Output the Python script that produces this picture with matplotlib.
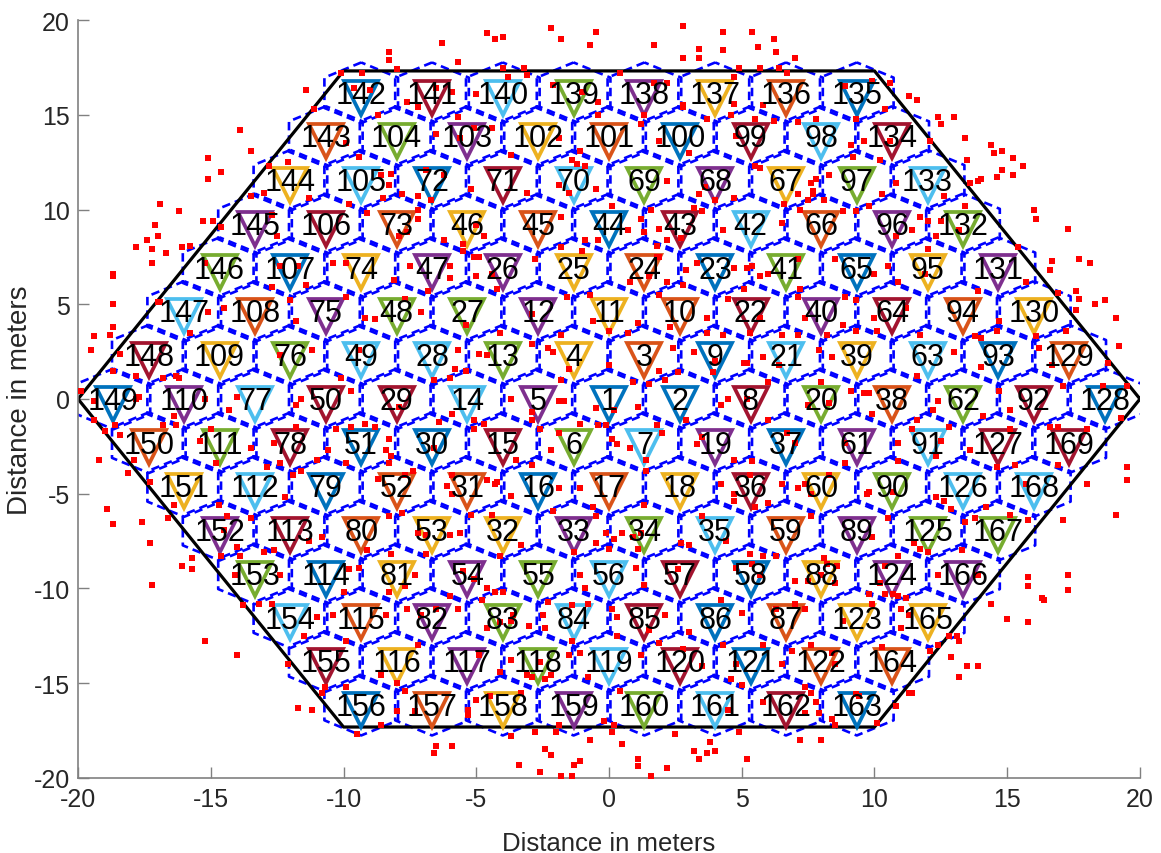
import numpy as np
import matplotlib
matplotlib.use("Agg")
import matplotlib.pyplot as plt
from matplotlib import font_manager

# base station ids, one list per hexagon row, top row first
cell_rows = [
    [142, 141, 140, 139, 138, 137, 136, 135],
    [143, 104, 103, 102, 101, 100, 99, 98, 134],
    [144, 105, 72, 71, 70, 69, 68, 67, 97, 133],
    [145, 106, 73, 46, 45, 44, 43, 42, 66, 96, 132],
    [146, 107, 74, 47, 26, 25, 24, 23, 41, 65, 95, 131],
    [147, 108, 75, 48, 27, 12, 11, 10, 22, 40, 64, 94, 130],
    [148, 109, 76, 49, 28, 13, 4, 3, 9, 21, 39, 63, 93, 129],
    [149, 110, 77, 50, 29, 14, 5, 1, 2, 8, 20, 38, 62, 92, 128],
    [150, 111, 78, 51, 30, 15, 6, 7, 19, 37, 61, 91, 127, 169],
    [151, 112, 79, 52, 31, 16, 17, 18, 36, 60, 90, 126, 168],
    [152, 113, 80, 53, 32, 33, 34, 35, 59, 89, 125, 167],
    [153, 114, 81, 54, 55, 56, 57, 58, 88, 124, 166],
    [154, 115, 82, 83, 84, 85, 86, 87, 123, 165],
    [155, 116, 117, 118, 119, 120, 121, 122, 164],
    [156, 157, 158, 159, 160, 161, 162, 163],
]
row_index = list(range(7, -8, -1))

# matlab default colour order
bs_colors = ["#0072BD", "#D95319", "#EDB120", "#7E2F8E", "#77AC30", "#4DBEEE", "#A2142F"]

area_radius = 20.0
bs_spacing = area_radius / 7.5

# user positions, grouped by region
pts_left_top = [(-15.1,12.7),(-14.6,12.0),(-15.1,11.6),(-13.5,13.1),(-16.9,10.3),(-16.2,9.9),(-17.1,9.2),(-17.0,8.6),
    (-17.4,8.4),(-17.2,7.9),(-17.8,8.0),(-16.7,7.7),(-17.2,7.2),(-16.1,8.0),(-15.8,8.1),(-15.3,9.4),(-14.9,9.4),
    (-14.6,9.1),(-18.7,6.6),(-18.7,6.5),(-18.7,5.0),(-18.7,3.8),(-18.8,3.4),(-19.4,3.3),(-19.5,2.6),(-18.4,2.4),
    (-18.7,1.5),(-17.0,5.1),(-16.9,5.1),(-13.5,10.7),(-13.0,10.9),(-12.1,12.5),(-12.8,12.3),(-11.3,10.6),(-12.7,9.7),
    (-12.5,8.6),(-15.2,7.2),(-15.1,4.6),(-14.5,4.8),(-15.8,3.5),(-17.8,1.2),(-16.8,1.1),(-16.3,1.2),(-16.2,1.1),
    (-14.0,0.1),(-19.9,0.4),(-11.8,4.1),(-12.0,5.2),(-12.7,5.9),(-11.4,6.0),(-10.4,7.2),(-12.4,7.0),(-11.7,7.0),
    (-11.2,2.6),(-12.4,2.3),(-11.6,0.0),(-11.8,-0.3),(-17.8,0.0),(-13.9,14.2)]
pts_top = [(-2.2,19.6),(-4.6,19.3),(-4.3,19.0),(-4.0,19.1),(-1.8,19.0),(-0.5,19.4),(-0.7,18.7),(-6.3,18.8),(-8.3,18.3),
    (-8.3,17.9),(-5.7,17.8),(2.8,19.7),(1.7,18.7),(2.8,18.0),(3.4,18.5),(3.4,18.0),(4.3,19.4),(4.3,18.4),(5.4,19.4),
    (5.6,18.6),(6.2,19.0),(6.3,18.3),(7.0,18.0),(4.9,17.5),(5.7,17.5),(6.4,17.5),(6.7,17.2),(-4.0,17.5),(-3.2,17.5),
    (-8.0,17.4),(-9.3,17.2),(-10.1,17.2),(-3.8,17.0),(-3.1,17.1),(-11.4,16.3),(10.6,16.7),(11.6,15.8),(11.3,16.0),
    (9.9,16.8),(0.4,17.2),(4.7,17.0),(-9.6,16.4),(-9.0,16.3),(-7.6,15.7),(-6.5,16.4),(-5.9,16.2),(-5.0,16.1),
    (-2.1,16.6),(-1.0,16.2),(-0.4,15.7),(1.7,16.7),(2.2,16.7),(2.8,15.5),(5.8,15.5),(8.9,16.5),(10.4,15.3),
    (4.7,15.6),(-11.1,15.3)]
pts_right_top = [(12.4,14.9),(13.0,14.9),(12.5,14.5),(13.4,13.8),(14.4,13.4),(14.5,13.0),(14.8,13.1),(15.2,12.7),
    (15.6,12.3),(14.8,12.1),(15.2,11.8),(14.6,11.7),(13.5,12.6),(14.0,11.6),(13.9,11.5),(13.6,11.4),(16.0,10.0),
    (16.1,9.5),(17.3,9.0),(17.7,7.4),(18.1,7.2),(16.7,7.3),(16.6,6.8),(17.6,5.7),(17.7,5.3),(16.9,5.6),(18.3,5.0),
    (18.7,5.2),(17.6,4.7),(19.1,4.3),(19.2,2.8),(18.8,1.9),(19.5,0.7),(13.4,10.2),(12.6,10.7),(12.1,13.6),(9.6,13.6),
    (10.6,13.6),(10.2,12.6),(10.8,11.4),(10.3,10.8),(9.8,10.2),(11.7,9.6),(12.0,9.4),(12.5,9.4),(13.2,8.9),(12.3,8.6),
    (11.4,8.9),(10.8,8.6),(12.0,7.9),(10.5,7.0),(10.0,6.6),(10.9,6.2),(11.9,6.6),(13.9,5.7),(15.4,8.0),(15.7,6.2),
    (14.7,4.1),(14.6,3.6),(13.8,3.3),(14.0,3.2),(11.7,3.4),(10.1,3.6),(10.0,4.3),(11.2,4.8),(16.1,3.3),(16.2,2.7),
    (17.2,3.6),(16.7,1.8),(13.0,2.5),(14.0,1.7),(11.6,1.2),(17.1,0.7),(18.6,0.7),(14.7,0.4),(9.8,0.3),(9.6,0.3)]
pts_right_bottom = [(19.5,-3.6),(19.5,-4.3),(18.0,-4.5),(19.1,-6.1),(17.1,-6.4),(15.8,-9.4),(15.8,-9.9),(17.3,-9.3),
    (17.3,-10.1),(16.3,-10.5),(16.4,-10.6),(14.4,-10.8),(15.0,-11.6),(15.8,-11.8),(13.5,-14.1),(13.9,-14.1),
    (13.2,-14.7),(12.9,-13.6),(13.2,-12.8),(13.1,-12.5),(11.4,-15.5),(10.8,-16.2),(12.4,-0.1),(12.2,-0.6),(9.9,-0.8),
    (11.6,-1.1),(11.4,-1.6),(12.8,-1.5),(14.1,-0.9),(15.1,-0.6),(15.1,-1.6),(16.6,-1.5),(16.9,-1.5),(18.0,-1.6),
    (19.3,-1.0),(10.9,-2.3),(12.5,-2.2),(13.6,-2.7),(12.3,-3.0),(10.9,-3.3),(14.6,-3.6),(15.3,-3.5),(16.9,-3.5),
    (15.7,-4.5),(9.8,-4.9),(9.7,-5.0),(10.7,-4.9),(12.3,-5.2),(12.6,-5.4),(12.9,-5.8),(14.2,-5.7),(15.1,-6.1),
    (15.8,-6.4),(10.5,-6.3),(13.4,-6.5),(13.8,-6.3),(9.9,-7.3),(11.5,-7.6),(11.7,-7.9),(13.3,-8.0),(12.0,-8.1),
    (10.9,-8.3),(10.4,-8.8),(12.4,-9.3),(13.9,-9.3),(10.2,-9.7),(10.4,-10.3),(10.7,-10.3),(10.9,-10.4),(11.2,-10.5),
    (9.8,-10.3),(11.0,-11.1),(11.3,-11.4),(9.9,-10.8),(11.0,-12.1),(12.8,-12.5),(12.4,-13.0),(12.1,-13.3),(10.3,-13.1)]
pts_left_bottom = [(-19.2,-3.2),(-18.9,-5.8),(-18.7,-6.6),(-17.6,-6.5),(-17.3,-7.6),(-16.6,-6.3),(-16.4,-5.6),
    (-16.1,-8.8),(-15.7,-9.0),(-15.7,-8.4),(-17.2,-9.8),(-15.2,-12.8),(-14.0,-13.5),(-18.1,-3.9),(-17.3,-4.4),
    (-17.9,-3.2),(-18.4,-1.9),(-19.0,-1.7),(-19.4,-1.1),(-19.4,-0.1),(-11.7,-16.3),(-11.2,-16.4),(-13.8,-10.9),
    (-12.1,-14.0),(-18.6,-1.4),(-17.7,0.1),(-16.4,-0.9),(-16.3,-1.4),(-16.8,-1.4),(-15.2,0.0),(-14.3,-0.6),
    (-15.0,-1.6),(-15.4,-2.2),(-14.8,-3.4),(-13.5,-2.6),(-12.9,-3.6),(-12.6,-2.3),(-12.4,-3.4),(-11.8,-1.5),
    (-11.6,-3.8),(-11.9,-4.0),(-11.0,-3.2),(-10.6,-2.7),(-10.3,-1.6),(-9.9,-3.4),(-14.7,-5.6),(-13.5,-6.3),
    (-14.4,-6.2),(-14.5,-6.9),(-12.2,-5.2),(-14.6,-8.3),(-13.9,-8.3),(-14.0,-7.8),(-13.0,-8.1),(-12.6,-8.0),
    (-11.3,-7.5),(-10.8,-7.3),(-12.4,-9.3),(-14.1,-9.3),(-13.2,-10.8),(-12.7,-10.8),(-11.0,-11.5),(-10.4,-11.4),
    (-11.5,-12.5),(-10.0,-10.2),(-9.9,-12.8),(-10.7,-15.2),(-9.9,-15.2)]
pts_bottom = [(-9.5,-17.7),(-8.6,-17.2),(-8.0,-16.5),(-7.3,-16.5),(-6.5,-18.3),(-6.6,-18.7),(-5.9,-18.3),(-5.3,-16.4),
    (-5.3,-16.7),(-5.0,-15.9),(-3.7,-17.8),(-3.3,-15.5),(-2.8,-17.6),(-3.4,-19.3),(-2.6,-19.7),(-2.4,-18.5),
    (-2.2,-18.8),(-2.0,-17.6),(-1.9,-17.2),(-1.3,-19.3),(-1.1,-19.1),(-1.4,-19.9),(-1.8,-19.9),(-0.7,-18.0),
    (-0.2,-17.0),(0.2,-17.2),(0.1,-17.6),(0.5,-18.2),(1.1,-19.0),(1.1,-19.4),(1.6,-19.9),(2.2,-19.5),(2.5,-17.7),
    (3.2,-18.6),(3.4,-19.0),(3.7,-18.7),(4.0,-18.6),(3.8,-18.1),(4.5,-16.4),(4.9,-17.6),(5.2,-19.0),(5.8,-16.0),
    (7.2,-18.0),(8.0,-18.0),(7.8,-16.0),(7.9,-16.6),(7.6,-15.5),(8.4,-16.9),(8.5,-17.2),(10.1,-17.1),(9.4,-15.7),
    (11.3,-15.5),(-10.8,-15.5),(-7.7,-15.4),(7.4,-16.6)]
pts_inner_ul = [(-7.2,15.4),(-8.7,15.0),(-5.7,14.9),(-6.5,14.0),(-5.1,14.3),(-4.4,14.3),(-5.6,13.8),(-1.9,13.8),
    (-0.4,15.0),(-1.1,13.1),(-9.9,13.5),(-9.4,12.8),(-3.7,12.9),(-1.4,12.6),(-1.2,12.4),(-0.9,12.3),(-8.2,11.9),
    (-8.3,11.3),(-8.6,11.8),(-6.9,12.1),(-6.2,11.8),(-5.2,11.1),(-3.1,10.9),(-1.9,11.3),(-1.5,10.9),(-0.5,11.1),
    (-7.8,10.8),(-7.2,10.7),(-8.5,10.6),(-6.7,10.5),(-9.8,10.3),(-9.1,9.8),(-7.2,10.0),(-7.2,9.5),(-7.6,8.8),
    (-7.9,8.6),(-6.2,8.4),(-5.5,8.2),(-5.5,7.8),(-4.7,8.6),(-5.0,9.2),(-1.8,9.6),(-0.9,8.4),(-0.4,8.4),(-1.0,7.8),
    (-1.8,8.0),(-2.8,7.4),(-5.1,7.5),(-4.9,7.5),(-5.0,6.5),(-4.4,6.6),(-4.2,5.8),(-6.0,7.0),(-6.0,6.4),(-7.5,7.0),
    (-8.1,6.3),(-9.9,7.2),(-6.8,5.7),(-9.9,5.4),(-7.7,5.3),(-7.1,4.6),(-9.2,4.3),(-8.8,4.2),(-5.4,3.9),(-4.1,3.5),
    (-2.9,4.5),(-1.6,5.4),(-0.7,5.5),(-0.6,4.1),(-1.8,3.4),(-2.9,2.9),(-2.3,2.7),(-2.1,2.5),(-1.5,1.6),(-1.8,1.0),
    (-5.7,2.6),(-4.9,2.4),(-4.6,2.3),(-5.8,1.6),(-5.4,1.5),(-6.0,1.1),(-6.6,1.0),(-9.4,2.6),(-9.7,0.4),(-10.1,1.1),
    (-3.7,0.0),(-1.9,-0.1),(-1.7,-0.1)]
pts_inner_ur = [(2.8,15.4),(1.3,15.0),(1.2,14.5),(3.7,14.8),(4.6,15.0),(5.5,14.8),(6.2,14.7),(7.1,14.6),(7.8,14.8),
    (9.3,14.8),(1.9,13.6),(3.0,13.0),(4.8,13.9),(9.1,13.4),(9.2,12.8),(5.5,12.3),(5.7,12.2),(8.3,11.8),(7.8,11.6),
    (7.6,11.4),(2.2,11.5),(3.4,10.8),(3.6,11.2),(4.0,10.5),(7.1,10.8),(7.7,11.0),(7.7,10.8),(7.5,10.5),(6.6,10.3),
    (4.7,10.6),(0.1,10.2),(1.6,10.0),(3.2,10.1),(3.5,9.9),(1.2,9.5),(0.7,8.9),(1.3,8.8),(1.9,9.0),(2.2,8.4),(2.7,8.5),
    (4.3,8.9),(6.5,9.3),(7.2,10.0),(8.1,10.5),(8.8,9.9),(9.3,9.9),(1.8,8.1),(1.8,7.5),(1.9,7.5),(3.3,7.2),(4.7,6.9),
    (5.2,6.9),(5.4,7.0),(5.7,6.5),(6.0,6.6),(7.1,7.4),(8.5,7.4),(0.8,6.2),(1.5,6.5),(2.2,6.2),(2.9,6.8),(2.8,6.0),
    (1.9,5.5),(5.1,5.8),(7.2,5.8),(7.1,5.4),(4.5,5.3),(3.7,4.3),(5.7,4.3),(7.4,4.3),(8.8,3.9),(8.9,5.4),(9.3,5.2),
    (1.1,4.0),(2.3,3.8),(0.7,3.5),(0.0,3.6),(3.7,3.5),(4.3,3.4),(5.3,3.5),(6.5,3.4),(7.1,3.4),(8.2,3.4),(9.3,3.6),
    (3.2,2.5),(4.0,2.0),(5.1,1.9),(5.2,1.9),(5.8,2.2),(6.4,1.8),(7.9,2.6),(8.4,2.2),(0.0,1.8),(1.9,1.5),(2.6,1.4),
    (3.9,1.4),(0.9,0.9),(1.5,0.8),(6.0,0.9),(8.0,0.9),(4.5,0.0),(5.2,0.0),(9.1,0.4),(2.1,1.0),(2.4,2.7)]
pts_center = [(4.2,-0.3),(-0.5,-0.5),(0.2,-0.6),(1.1,-0.4),(-1.1,-1.3),(-0.4,-1.4),(-0.1,-1.4),(1.8,-1.4),(2.9,-1.1),
    (-2.6,-1.6),(-1.9,-1.8),(-2.2,-2.7),(0.1,-2.1),(0.3,-2.4),(0.8,-2.6),(1.4,-3.2),(1.4,-3.8),(4.7,-3.2),(3.3,-2.4)]
pts_inner_ll = [(-7.9,-0.4),(-6.4,-1.2),(-5.9,-0.8),(-5.1,-1.1),(-5.1,-1.6),(-4.7,-1.3),(-2.9,-0.7),(-2.9,-1.1),
    (-9.7,-1.5),(-9.2,-1.3),(-8.8,-1.5),(-8.3,-2.1),(-8.4,-2.7),(-8.2,-3.0),(-6.6,-2.6),(-8.3,-3.4),(-7.4,-3.8),
    (-7.7,-4.0),(-8.7,-4.2),(-5.9,-4.0),(-6.1,-4.6),(-5.9,-5.0),(-4.6,-4.3),(-4.3,-4.5),(-4.2,-4.4),(-3.7,-5.1),
    (-3.5,-3.2),(-2.9,-3.5),(-1.9,-4.7),(-1.1,-4.7),(-0.6,-5.7),(-0.5,-6.2),(-2.1,-5.9),(-8.3,-6.2),(-7.8,-6.0),
    (-5.2,-6.1),(-4.4,-6.1),(-6.9,-7.2),(-7.2,-7.1),(-6.0,-7.2),(-5.6,-7.1),(-4.1,-8.3),(-3.3,-7.7),(-1.3,-8.1),
    (-0.5,-7.6),(-8.2,-8.2),(-6.9,-8.2),(-9.1,-8.0),(-9.4,-8.9),(-9.8,-9.0),(-7.3,-9.3),(-5.5,-9.1),(-5.1,-9.5),
    (-4.6,-10.0),(-4.3,-10.2),(-4.0,-10.2),(-8.3,-10.2),(-7.7,-9.9),(-6.0,-10.4),(-4.8,-10.6),(-1.1,-9.3),
    (-0.9,-10.0),(-0.8,-10.8),(-2.3,-10.7),(-1.4,-10.9),(-8.4,-11.4),(-7.6,-11.1),(-7.1,-11.4),(-6.5,-11.1),
    (-5.7,-11.1),(-3.6,-11.4),(-3.7,-11.7),(-4.1,-11.8),(-4.6,-12.1),(-3.0,-12.0),(-2.4,-12.1),(-2.5,-11.4),
    (-1.4,-12.8),(-7.2,-13.0),(-3.7,-13.8),(-4.1,-14.4),(-2.6,-13.9),(-3.1,-14.6),(-2.9,-14.7),(-2.2,-14.6),
    (-2.4,-14.8),(-1.5,-13.5),(-1.1,-13.4),(-0.8,-14.7),(-8.6,-14.6),(-8.0,-15.0),(-4.9,-13.5),(-4.5,-15.7)]
pts_inner_lr = [(2.0,-1.8),(6.0,-1.1),(7.5,-0.3),(8.3,-0.2),(3.5,-2.0),(5.4,-3.3),(6.7,-1.8),(7.0,-2.3),(8.9,-2.3),
    (8.9,-3.4),(4.2,-4.5),(4.7,-5.0),(4.7,-5.4),(5.3,-4.0),(5.5,-5.7),(6.0,-5.5),(6.5,-4.5),(7.1,-4.7),(7.4,-4.5),
    (8.3,-4.0),(7.6,-5.0),(1.3,-5.6),(-0.1,-7.1),(0.2,-7.4),(0.5,-7.1),(0.0,-7.9),(0.9,-7.3),(1.1,-7.9),(1.2,-7.1),
    (2.7,-7.6),(3.0,-7.7),(3.5,-6.2),(4.4,-7.5),(7.6,-6.2),(5.3,-8.2),(5.8,-8.3),(6.3,-8.3),(5.4,-8.7),(4.8,-8.9),
    (5.7,-9.3),(1.0,-8.9),(2.6,-9.0),(7.0,-9.6),(7.5,-9.6),(8.1,-8.4),(8.2,-8.7),(8.6,-8.8),(8.5,-9.7),(8.0,-9.3),
    (1.3,-9.8),(4.2,-10.6),(7.0,-10.8),(7.4,-11.1),(0.1,-11.1),(0.3,-11.5),(2.1,-11.4),(1.5,-12.2),(3.0,-12.3),
    (5.0,-11.3),(6.3,-11.1),(8.8,-11.7),(0.3,-12.5),(1.9,-12.9),(4.3,-13.0),(5.8,-13.0),(1.2,-13.5),(2.8,-13.2),
    (3.5,-14.1),(4.6,-14.8),(5.0,-15.1),(4.8,-14.0),(6.5,-14.0),(6.9,-13.3),(7.6,-13.0),(8.4,-13.4),(8.5,-14.0),
    (7.4,-15.2),(0.4,-15.4),(9.3,-15.6)]

x_ticks = [-20, -15, -10, -5, 0, 5, 10, 15, 20]
y_ticks = [-20, -15, -10, -5, 0, 5, 10, 15, 20]

installed = {f.name for f in font_manager.fontManager.ttflist}
narrow_font = "Liberation Sans Narrow" if "Liberation Sans Narrow" in installed else "Liberation Sans"


def bs_color(cell_id):
    if cell_id == 1:
        return bs_colors[0]
    return bs_colors[(cell_id - 2) % len(bs_colors)]


fig = plt.figure(figsize=(11.61, 8.54), dpi=100)
ax = fig.add_axes([0.0672, 0.0881, 0.9147, 0.8871])

# cell centres on the hexagonal lattice
centres = []
for ids, r in zip(cell_rows, row_index):
    n = len(ids)
    for i, cid in enumerate(ids):
        cx = (i - (n - 1) / 2.0) * bs_spacing
        cy = r * bs_spacing * np.sqrt(3) / 2
        centres.append((cid, cx, cy))

# dashed cell borders (a touch larger than the tiling, so neighbours overlap a bit)
hex_r = bs_spacing / np.sqrt(3) * 1.04
ang = np.deg2rad(np.arange(90, 451, 60))
for cid, cx, cy in centres:
    ax.plot(cx + hex_r * np.cos(ang), cy + hex_r * np.sin(ang), color="blue",
            lw=1.9, ls=(0, (3.2, 1.9)), zorder=1)

# outer area
out_ang = np.deg2rad(np.arange(0, 361, 60))
ax.plot(area_radius * np.cos(out_ang), area_radius * np.sin(out_ang), color="black", lw=2.3, zorder=2)

# base stations
for cid, cx, cy in centres:
    ax.plot(cx, cy - 0.25, marker="v", ms=25, mfc="none", mec=bs_color(cid), mew=2.7,
            ls="none", zorder=3)

# users
groups = [pts_left_top, pts_top, pts_right_top, pts_right_bottom, pts_left_bottom, pts_bottom,
          pts_inner_ul, pts_inner_ur, pts_center, pts_inner_ll, pts_inner_lr]
for g in groups:
    g = np.array(g)
    ax.plot(g[:, 0], g[:, 1], "s", color="red", ms=4, mew=0, zorder=4)

for cid, cx, cy in centres:
    ax.text(cx, cy - 0.1, str(cid), ha="center", va="center", fontsize=22,
            family=narrow_font, color="black", zorder=5)

ax.set_xlim(-20, 20)
ax.set_ylim(-20, 20)
ax.set_xticks(x_ticks)
ax.set_yticks(y_ticks)
ax.set_xticklabels([str(t) for t in x_ticks])
ax.set_yticklabels([str(t) for t in y_ticks])
for s in ["top", "right"]:
    ax.spines[s].set_visible(False)
for s in ["left", "bottom"]:
    ax.spines[s].set_color("#808080")
    ax.spines[s].set_linewidth(1.2)
ax.tick_params(direction="in", length=8, width=1, color="#808080", labelcolor="#262626",
               labelsize=18)
ax.tick_params(axis="x", pad=7)
ax.tick_params(axis="y", pad=6)
for lab in ax.get_xticklabels() + ax.get_yticklabels():
    lab.set_family(narrow_font)

ax.set_xlabel("Distance in meters", fontsize=18.5, family=narrow_font, color="#262626")
ax.set_ylabel("Distance in meters", fontsize=20, family="Liberation Sans", color="#262626")
ax.xaxis.set_label_coords(0.5, -0.07)
ax.yaxis.set_label_coords(-0.042, 0.5)

fig.savefig("out.png", dpi=100)
